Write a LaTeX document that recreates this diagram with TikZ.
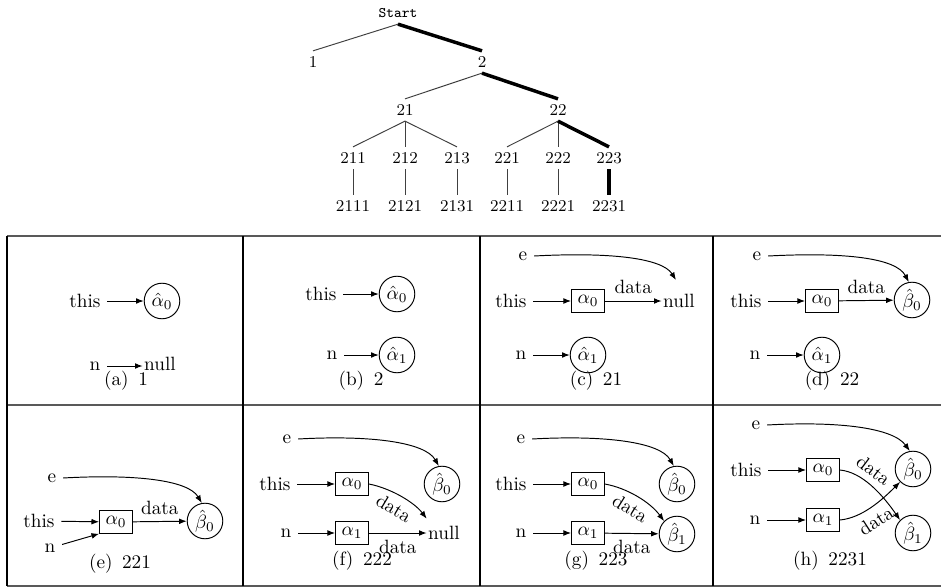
\documentclass[tikz,border=0pt]{standalone}
\usetikzlibrary{arrows.meta,calc}
\begin{document}
\begin{tikzpicture}[x=0.52pt,y=-0.52pt,
  every node/.style={font=\fontsize{10}{12}\selectfont},
  tr/.style={font=\fontsize{8.6}{10}\selectfont, inner sep=3pt, text height=5.2pt, text depth=0pt},
  trs/.style={tr, font=\ttfamily\fontsize{7.6}{9}\selectfont},
  tlink/.style={line width=0.5pt, black!75},
  tbold/.style={line width=1.8pt, black},
  hline/.style={line width=0.75pt, black!65},
  vline/.style={line width=0.6pt, black},
  cir/.style={circle, draw, line width=0.5pt, minimum size=18.5pt, inner sep=0.5pt},
  obj/.style={rectangle, draw, line width=0.5pt, minimum width=17pt, minimum height=11.7pt, inner sep=1pt},
  nul/.style={inner sep=0.6pt},
  arr/.style={-{Latex[length=4pt,width=3pt]}, line width=0.5pt},
  lab/.style={font=\fontsize{10}{12}\selectfont},
  captxt/.style={font=\fontsize{10}{12}\selectfont}
]
\useasboundingbox (0,0) rectangle (941,588);

% ---------------- tree ----------------
\node[trs] (st) at (398,13) {Start};
\node[tr] (t1) at (313,62) {1};
\node[tr] (t2) at (482,62) {2};
\node[tr] (t21) at (405,110) {21};
\node[tr] (t22) at (558,110) {22};
\node[tr] (t211) at (353,158) {211};
\node[tr] (t212) at (405,158) {212};
\node[tr] (t213) at (457,158) {213};
\node[tr] (t221) at (507,158) {221};
\node[tr] (t222) at (558,158) {222};
\node[tr] (t223) at (609,158) {223};
\node[tr] (t2111) at (353,206) {2111};
\node[tr] (t2121) at (405,206) {2121};
\node[tr] (t2131) at (457,206) {2131};
\node[tr] (t2211) at (507,206) {2211};
\node[tr] (t2221) at (558,206) {2221};
\node[tr] (t2231) at (609,206) {2231};

\draw[tlink] (st.south) -- (t1.north);
\draw[tbold] (st.south) -- (t2.north);
\draw[tlink] (t2.south) -- (t21.north);
\draw[tbold] (t2.south) -- (t22.north);
\draw[tlink] (t21.south) -- (t211.north);
\draw[tlink] (t21.south) -- (t212.north);
\draw[tlink] (t21.south) -- (t213.north);
\draw[tlink] (t22.south) -- (t221.north);
\draw[tlink] (t22.south) -- (t222.north);
\draw[tbold] (t22.south) -- (t223.north);
\draw[tlink] (t211.south) -- (t2111.north);
\draw[tlink] (t212.south) -- (t2121.north);
\draw[tlink] (t213.south) -- (t2131.north);
\draw[tlink] (t221.south) -- (t2211.north);
\draw[tlink] (t222.south) -- (t2221.north);
\draw[tbold] (t223.south) -- (t2231.north);

% ---------------- table ----------------
\draw[hline] (7,236) -- (941,236);
\draw[hline] (7,405) -- (941,405);
\draw[hline] (7,586) -- (941,586);
\draw[vline] (7,236) -- (7,586);
\draw[vline] (243,236) -- (243,586);
\draw[vline] (480,236) -- (480,586);
\draw[vline] (713,236) -- (713,586);

% ---------------- (a) ----------------
\node[lab] (a-this) at (85,301) {this};
\node[cir] (a-a0) at (162,301) {$\hat\alpha_0$};
\node[lab] (a-n) at (95,366) {n};
\node[lab,nul] (a-null) at (160,364) {null};
\draw[arr] (a-n) -- (a-null.west|-a-n);
\draw[arr] (a-this) -- (a-a0);
\node[captxt] (a-cap) at (126,381) {(a)\enspace 1};

% ---------------- (b) ----------------
\node[lab] (b-this) at (321,294) {this};
\node[cir] (b-a0) at (397,294) {$\hat\alpha_0$};
\node[lab] (b-n) at (332,355) {n};
\node[cir] (b-a1) at (397,355) {$\hat\alpha_1$};
\draw[arr] (b-this) -- (b-a0);
\draw[arr] (b-n) -- (b-a1);
\node[captxt] (b-cap) at (361,381) {(b)\enspace 2};

% ---------------- (c) ----------------
\node[lab] (c-e) at (523,256) {e};
\node[lab] (c-this) at (511,301) {this};
\node[obj] (c-b0) at (588,301) {$\alpha_0$};
\node[lab,nul] (c-null) at (679,301) {null};
\coordinate (c-tip) at (676,280);
\node[lab] (c-n) at (521,355) {n};
\node[cir] (c-a1) at (588,355) {$\hat\alpha_1$};
\draw[arr] (c-e.east) .. controls (610,252) and (662,258) .. (c-tip);
\draw[arr] (c-this) -- (c-b0);
\draw[arr] (c-b0) -- node[above, lab] {data} (c-null);
\draw[arr] (c-n) -- (c-a1);
\node[captxt] (c-cap) at (596,381) {(c)\enspace 21};

% ---------------- (d) ----------------
\node[lab] (d-e) at (757,256) {e};
\node[lab] (d-this) at (746,301) {this};
\node[obj] (d-b0) at (822,301) {$\alpha_0$};
\node[cir] (d-beta0) at (912,300) {$\hat\beta_0$};
\node[lab] (d-n) at (755,355) {n};
\node[cir] (d-a1) at (822,355) {$\hat\alpha_1$};
\draw[arr] (d-e.east) .. controls (845,252) and (896,258) .. (d-beta0.100);
\draw[arr] (d-this) -- (d-b0);
\draw[arr] (d-b0) -- node[above, lab] {data} (d-beta0);
\draw[arr] (d-n) -- (d-a1);
\node[captxt] (d-cap) at (832,381) {(d)\enspace 22};

% ---------------- (e) ----------------
\node[lab] (e-e) at (52,478) {e};
\node[lab] (e-this) at (39,521) {this};
\node[obj] (e-b0) at (116,522) {$\alpha_0$};
\node[cir] (e-beta0) at (205,521) {$\hat\beta_0$};
\node[lab] (e-n) at (50,548) {n};
\draw[arr] (e-e.east) .. controls (135,474) and (188,480) .. (e-beta0.100);
\draw[arr] (e-this) -- (e-b0);
\draw[arr] (e-b0) -- node[above, lab] {data} (e-beta0);
\draw[arr] (e-n) -- (e-b0.south west);
\node[captxt] (e-cap) at (120,564) {(e)\enspace 221};

% ---------------- (f) ----------------
\node[lab] (f-e) at (287,439) {e};
\node[lab] (f-this) at (275,484) {this};
\node[obj] (f-b0) at (352,484) {$\alpha_0$};
\node[cir] (f-beta0) at (442,484) {$\hat\beta_0$};
\node[lab] (f-n) at (286,533) {n};
\node[obj] (f-b1) at (352,533) {$\alpha_1$};
\node[lab,nul] (f-null) at (444,533) {null};
\draw[arr] (f-e.east) .. controls (370,435) and (425,442) .. (f-beta0.100);
\draw[arr] (f-this) -- (f-b0);
\draw[arr] (f-b0.east) .. controls (390,488) and (414,502) .. node[below, sloped, lab] {data} ($(f-null.north west)+(0,-6)$);
\draw[arr] (f-n) -- (f-b1);
\draw[arr] (f-b1) -- node[below, lab] {data} (f-null);
\node[captxt] (f-cap) at (362,561) {(f)\enspace 222};

% ---------------- (g) ----------------
\node[lab] (g-e) at (521,439) {e};
\node[lab] (g-this) at (511,484) {this};
\node[obj] (g-b0) at (588,484) {$\alpha_0$};
\node[cir] (g-beta0) at (677,484) {$\hat\beta_0$};
\node[lab] (g-n) at (521,533) {n};
\node[obj] (g-b1) at (588,533) {$\alpha_1$};
\node[cir] (g-beta1) at (677,534) {$\hat\beta_1$};
\draw[arr] (g-e.east) .. controls (605,435) and (660,442) .. (g-beta0.100);
\draw[arr] (g-this) -- (g-b0);
\draw[arr] (g-b0.east) .. controls (627,488) and (650,502) .. node[below, sloped, lab] {data} (g-beta1.135);
\draw[arr] (g-n) -- (g-b1);
\draw[arr] (g-b1) -- node[below, lab] {data} (g-beta1);
\node[captxt] (g-cap) at (596,561) {(g)\enspace 223};

% ---------------- (h) ----------------
\node[lab] (h-e) at (756,425) {e};
\node[lab] (h-this) at (746,470) {this};
\node[obj] (h-b0) at (823,470) {$\alpha_0$};
\node[cir] (h-beta0) at (913,469) {$\hat\beta_0$};
\node[lab] (h-n) at (755,520) {n};
\node[obj] (h-b1) at (823,520) {$\alpha_1$};
\node[cir] (h-beta1) at (913,533) {$\hat\beta_1$};
\draw[arr] (h-e.east) .. controls (840,421) and (893,428) .. (h-beta0.100);
\draw[arr] (h-this) -- (h-b0);
\draw[arr] (h-n) -- (h-b1);
\draw[arr] (h-b0.east) .. controls (862,472) and (882,494) .. node[above, sloped, lab, pos=0.4] {data} (h-beta1.135);
\draw[arr] (h-b1.east) .. controls (862,518) and (882,500) .. node[below, sloped, lab, pos=0.45] {data} (h-beta0.225);
\node[captxt] (h-cap) at (830,561) {(h)\enspace 2231};

\end{tikzpicture}
\end{document}
